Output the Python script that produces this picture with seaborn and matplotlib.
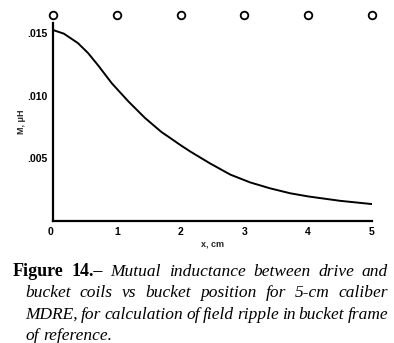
import matplotlib
matplotlib.use("Agg")
import matplotlib.pyplot as plt
import seaborn as sns
import pandas as pd

# ---- data ----
x_cm = [0.0, 0.17, 0.39, 0.55, 0.71, 0.92, 1.18, 1.44, 1.70, 1.83, 2.0, 2.15,
        2.46, 2.78, 3.09, 3.40, 3.72, 4.0, 4.5, 5.0]
m_uH = [0.01524, 0.01495, 0.0142, 0.0134, 0.0124, 0.0110, 0.00955, 0.00823,
        0.00710, 0.00665, 0.00605, 0.00555, 0.0046, 0.0037, 0.00308, 0.00261,
        0.00221, 0.00196, 0.00161, 0.00135]
coil_x = [0, 1, 2, 3, 4, 5]
coil_y = [0.01643] * 6
x_ticks = [0, 1, 2, 3, 4, 5]
x_ticklabels = ["0", "1", "2", "3", "4", "5"]
y_ticks = [0.005, 0.010, 0.015]
y_ticklabels = [".005", ".010", ".015"]

W, H = 394, 343
sns.set_style("white")
plt.rcParams['font.family'] = ['Liberation Sans', 'DejaVu Sans']

fig = plt.figure(figsize=(W / 100, H / 100), dpi=100)
ax = fig.add_axes([53 / W, (H - 221) / H, 319 / W, 198 / H])

df = pd.DataFrame({"x": x_cm, "M": m_uH})
sns.lineplot(data=df, x="x", y="M", ax=ax, color="black", linewidth=1.4)
sns.scatterplot(x=coil_x, y=coil_y, ax=ax, marker="o", s=30,
                facecolor="white", edgecolor="black", linewidth=1.3,
                clip_on=False, zorder=5)

ax.set_xlim(0, 5)
ax.set_ylim(0, 0.0158)
for s in ["top", "right"]:
    ax.spines[s].set_visible(False)
for s in ["left", "bottom"]:
    ax.spines[s].set_linewidth(1.6)
    ax.spines[s].set_color("black")

ax.set_xticks(x_ticks)
ax.set_xticklabels(x_ticklabels, fontsize=7.5, fontweight="bold")
ax.set_yticks(y_ticks)
ax.set_yticklabels(y_ticklabels, fontsize=7.5, fontweight="bold")
ax.tick_params(axis="both", direction="in", length=6, width=1.0, colors="black", pad=4)
ax.get_xticklabels()[0].set_horizontalalignment("right")

ax.set_xlabel("x, cm", fontsize=6.5, fontweight="bold", labelpad=2)
ax.set_ylabel("M, \u03bcH", fontsize=6.5, fontweight="bold", labelpad=1)

# ---- caption, justified ----
serif = ['Liberation Serif', 'DejaVu Serif']
fs = 12.5
lines = [
    ([("Figure", "normal", "bold", 13), ("14.\u2013", "normal", "bold", 13),
      ("Mutual", "italic", "normal", fs), ("inductance", "italic", "normal", fs),
      ("between", "italic", "normal", fs), ("drive", "italic", "normal", fs),
      ("and", "italic", "normal", fs)], 276, 13, 388, True),
    ([(w, "italic", "normal", fs) for w in
      "bucket coils vs bucket position for 5-cm caliber".split()], 297, 25, 388, True),
    ([(w, "italic", "normal", fs) for w in
      "MDRE, for calculation of field ripple in bucket frame".split()], 319, 25, 388, True),
    ([(w, "italic", "normal", fs) for w in
      "of reference.".split()], 340, 25, 388, False),
]
fig.canvas.draw()
renderer = fig.canvas.get_renderer()
space = fig.text(0, 0, "a b", family=serif, style="italic", fontsize=fs)
ab = fig.text(0, 0, "ab", family=serif, style="italic", fontsize=fs)
sp = space.get_window_extent(renderer).width - ab.get_window_extent(renderer).width
space.remove(); ab.remove()
for tokens, yb, x0, x1, just in lines:
    objs = []
    widths = []
    for txt, style, weight, size in tokens:
        t = fig.text(0, 1 - yb / H, txt, family=serif, style=style, fontweight=weight,
                     fontsize=size, va="baseline", ha="left", color="black")
        objs.append(t)
        widths.append(t.get_window_extent(renderer).width)
    if just and len(objs) > 1:
        gap = (x1 - x0 - sum(widths)) / (len(objs) - 1)
    else:
        gap = sp
    xp = x0
    for t, w in zip(objs, widths):
        t.set_x(xp / W)
        xp += w + gap

fig.savefig("out.png", dpi=100)
